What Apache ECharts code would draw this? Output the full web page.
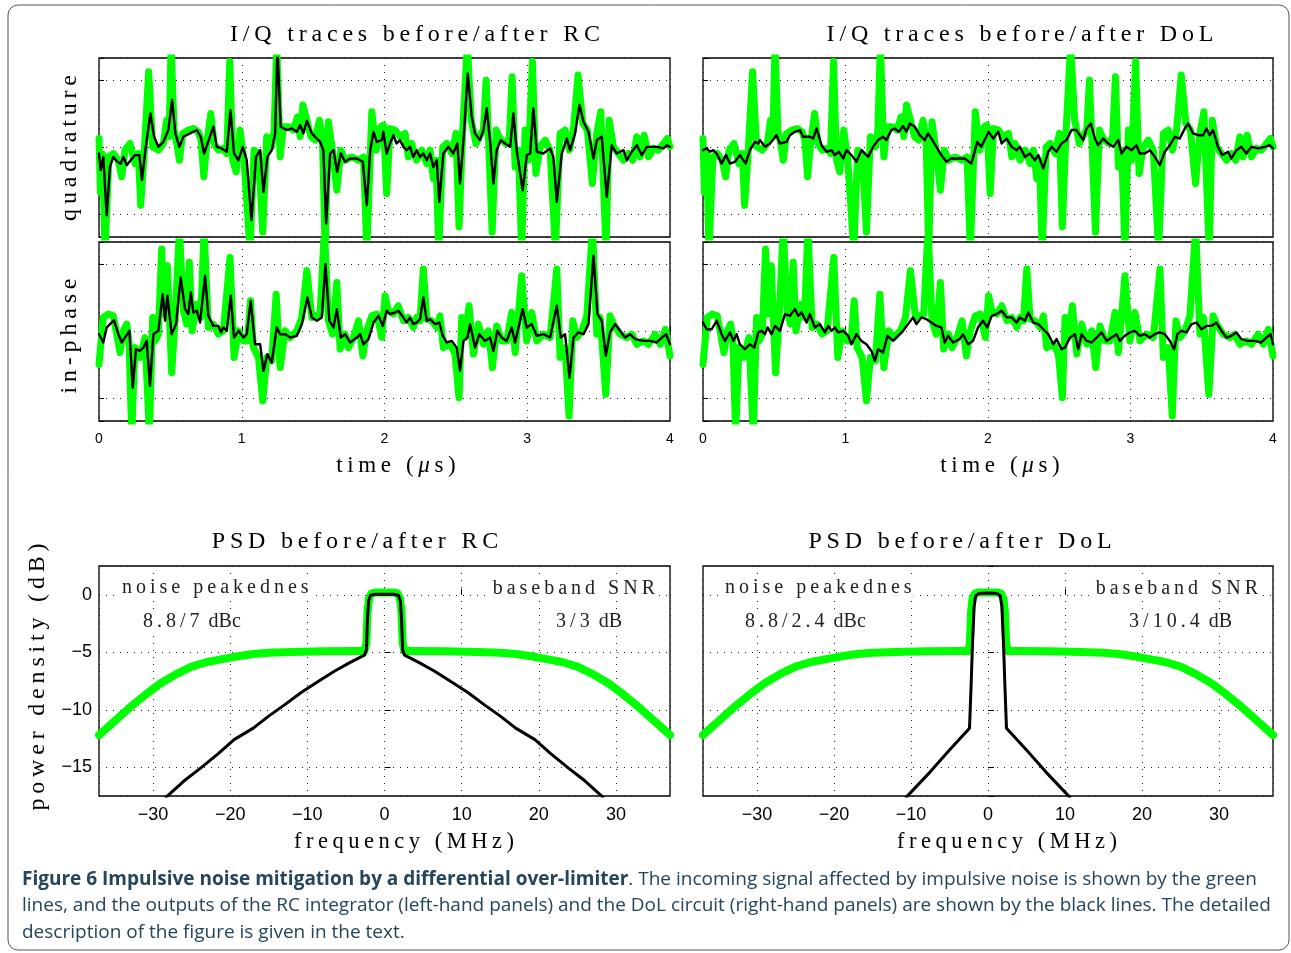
<!DOCTYPE html>
<html>
<head>
<meta charset="utf-8"/>
<title>Impulsive noise mitigation by a differential over-limiter</title>
<script src="https://cdn.jsdelivr.net/npm/echarts@6/dist/echarts.min.js"></script>
<style>
html,body{margin:0;padding:0;background:#fff;}
#chart{width:1291px;height:953px;}
</style>
</head>
<body>
<div id="chart"></div>
<script>
// ---- time traces: [time in us, amplitude] ----
// incoming signal (green), same in RC and DoL panels
var greenQ = [[0,0.4],[0.01,-2.0],[0.025,-0.3],[0.042,-4.6],[0.07,-0.4],[0.10,-0.27],[0.135,-0.57],[0.159,-1.31],[0.182,-0.12],[0.217,0.18],[0.252,-0.72],[0.276,-0.27],[0.292,-2.58],[0.315,-0.42],[0.348,3.39],[0.376,0.03],[0.416,-0.12],[0.451,0.18],[0.474,1.22],[0.491,0.48],[0.505,4.6],[0.526,0.78],[0.549,0.03],[0.563,-0.57],[0.586,0.63],[0.626,0.78],[0.661,0.85],[0.696,0.70],[0.715,0.33],[0.734,-1.31],[0.755,0.18],[0.783,1.52],[0.806,0.18],[0.836,-0.12],[0.871,-0.04],[0.895,-0.27],[0.916,3.84],[0.937,-0.57],[0.960,-1.09],[0.988,0.78],[1.016,-0.57],[1.058,-4.6],[1.086,-0.12],[1.117,-0.27],[1.147,-3.78],[1.175,0.48],[1.210,0.03],[1.227,0.78],[1.245,4.6],[1.269,-0.42],[1.292,0.93],[1.327,0.93],[1.362,0.78],[1.390,1.37],[1.409,0.48],[1.428,1.90],[1.456,1.22],[1.484,0.48],[1.514,0.33],[1.544,1.22],[1.565,0.48],[1.584,-4.6],[1.607,1.15],[1.638,-0.27],[1.666,-1.91],[1.694,-0.12],[1.724,-0.57],[1.771,-0.42],[1.818,-0.57],[1.853,-0.42],[1.876,-4.6],[1.911,1.60],[1.942,-0.12],[1.974,0.93],[1.993,1.0],[2.015,-2.06],[2.039,0.85],[2.074,0.78],[2.109,0.48],[2.144,0.63],[2.167,-0.42],[2.190,0.18],[2.225,-0.57],[2.261,-0.12],[2.296,-0.72],[2.319,-0.12],[2.342,-1.39],[2.361,-0.57],[2.380,-4.6],[2.408,0.03],[2.436,0.18],[2.471,-0.27],[2.501,0.63],[2.522,-3.55],[2.548,0.78],[2.580,4.6],[2.608,1.22],[2.641,0.18],[2.669,0.55],[2.693,0.78],[2.712,3.01],[2.730,0.18],[2.754,-3.78],[2.782,0.78],[2.814,0.33],[2.852,0.18],[2.875,0.48],[2.894,3.16],[2.915,-0.87],[2.938,-0.12],[2.961,-4.6],[2.985,0.78],[3.008,-0.57],[3.036,3.84],[3.060,-1.16],[3.090,0.03],[3.125,0.33],[3.160,-0.12],[3.197,-4.6],[3.230,0.63],[3.265,0.78],[3.295,-0.12],[3.323,0.78],[3.356,3.24],[3.389,1.07],[3.421,0.78],[3.456,-1.61],[3.487,0.63],[3.515,1.60],[3.552,-4.6],[3.574,1.22],[3.604,0.03],[3.639,-0.27],[3.674,-0.57],[3.709,-0.27],[3.739,-0.57],[3.767,0.48],[3.791,-0.42],[3.819,0.55],[3.849,-0.42],[3.884,-0.04],[3.919,-0.12],[3.954,0.18],[3.982,0.40],[4.0,0.03]];

var greenI = [[0,-1.46],[0.030,0.63],[0.065,0.78],[0.100,0.70],[0.124,-0.12],[0.147,-0.94],[0.171,0.03],[0.194,0.33],[0.210,-0.42],[0.229,-4.6],[0.252,-0.72],[0.287,-1.16],[0.322,-0.27],[0.353,-4.6],[0.376,0.63],[0.393,-0.42],[0.416,-0.12],[0.439,3.69],[0.456,0.78],[0.479,2.94],[0.509,-1.84],[0.533,0.48],[0.563,4.6],[0.591,0.93],[0.614,0.33],[0.633,3.09],[0.652,0.03],[0.685,1.22],[0.713,0.63],[0.736,4.6],[0.766,0.18],[0.801,0.33],[0.836,-0.12],[0.871,0.03],[0.918,3.31],[0.946,-1.16],[0.977,0.03],[1.012,-0.42],[1.040,-0.42],[1.061,1.37],[1.082,-0.72],[1.117,-1.16],[1.147,-3.10],[1.175,-1.16],[1.210,-1.31],[1.241,1.67],[1.269,-1.61],[1.304,0.03],[1.339,-0.27],[1.386,0.03],[1.421,0.63],[1.456,2.72],[1.491,0.63],[1.549,0.78],[1.579,4.6],[1.607,0.48],[1.636,-0.12],[1.666,2.19],[1.689,-0.79],[1.724,-0.12],[1.748,-0.72],[1.783,-0.27],[1.818,0.48],[1.848,-1.09],[1.876,0.03],[1.911,0.70],[1.946,0.78],[1.981,-0.27],[2.004,1.60],[2.027,0.93],[2.062,0.78],[2.097,1.15],[2.132,0.48],[2.167,0.63],[2.202,0.18],[2.225,0.63],[2.249,0.48],[2.272,2.79],[2.296,0.55],[2.331,0.48],[2.366,0.18],[2.389,0.70],[2.412,-0.72],[2.459,-0.57],[2.494,-1.01],[2.522,-2.96],[2.541,0.63],[2.564,-0.27],[2.592,1.15],[2.623,-1.01],[2.658,0.33],[2.693,-0.57],[2.728,0.03],[2.756,-1.61],[2.786,0.25],[2.821,-0.42],[2.856,-0.42],[2.891,0.85],[2.915,-0.94],[2.961,2.49],[2.996,-0.42],[3.031,0.85],[3.067,-0.42],[3.113,-0.12],[3.160,-0.27],[3.207,2.79],[3.230,-1.16],[3.265,-0.72],[3.293,-3.78],[3.319,0.48],[3.347,-0.27],[3.382,0.03],[3.417,0.70],[3.457,4.6],[3.487,-0.12],[3.511,0.63],[3.550,-2.81],[3.580,0.70],[3.604,0.33],[3.650,-0.12],[3.697,-0.27],[3.732,-0.12],[3.767,-0.57],[3.814,-0.42],[3.849,-0.57],[3.896,-0.12],[3.931,-0.57],[3.967,0.10],[4.0,-1.09]];

// RC integrator output (black, left panels)
var rcQ = [[0,-0.27],[0.012,-1.01],[0.030,-0.42],[0.054,-3.03],[0.077,-0.87],[0.100,-0.42],[0.129,-0.64],[0.152,-0.72],[0.171,-0.42],[0.194,-0.79],[0.222,-0.57],[0.252,-0.34],[0.283,-0.34],[0.301,-1.46],[0.325,-0.12],[0.360,1.52],[0.386,0.48],[0.416,0.03],[0.451,0.25],[0.486,0.78],[0.512,2.12],[0.535,0.63],[0.563,0.03],[0.591,0.48],[0.638,0.63],[0.685,0.78],[0.713,0.48],[0.736,-0.27],[0.769,0.33],[0.801,0.93],[0.825,0.03],[0.860,-0.04],[0.895,-0.19],[0.921,1.67],[0.946,-0.27],[0.977,-0.57],[1.007,0.03],[1.035,-0.57],[1.068,-3.25],[1.100,-0.42],[1.129,-0.12],[1.152,-1.99],[1.180,-0.42],[1.210,-0.12],[1.234,0.63],[1.250,4.5],[1.273,0.93],[1.315,0.78],[1.350,0.85],[1.386,0.70],[1.409,1.00],[1.432,0.63],[1.456,1.19],[1.491,0.63],[1.526,0.40],[1.549,0.25],[1.572,-0.12],[1.591,-3.40],[1.619,-0.27],[1.643,-0.12],[1.668,-1.09],[1.694,-0.27],[1.724,-0.64],[1.759,-0.49],[1.806,-0.49],[1.848,-0.64],[1.876,-2.58],[1.900,-0.12],[1.923,0.70],[1.946,0.25],[1.981,0.33],[1.992,0.70],[2.015,-0.27],[2.039,0.18],[2.062,0.55],[2.085,0.18],[2.109,0.33],[2.132,0.03],[2.155,-0.12],[2.179,0.03],[2.202,-0.42],[2.225,-0.12],[2.249,-0.42],[2.272,-0.27],[2.296,-0.57],[2.319,-0.27],[2.342,-0.87],[2.366,-0.57],[2.384,-2.43],[2.412,-0.27],[2.447,0.03],[2.482,-0.27],[2.510,0.18],[2.529,-1.61],[2.557,0.63],[2.583,3.31],[2.611,1.37],[2.634,0.63],[2.669,0.33],[2.693,0.78],[2.716,1.75],[2.739,0.33],[2.763,-1.61],[2.786,-0.12],[2.814,0.33],[2.845,0.18],[2.880,0.03],[2.903,1.52],[2.926,-0.12],[2.968,-1.91],[2.997,-0.34],[3.020,-0.27],[3.043,1.75],[3.067,-0.19],[3.113,-0.27],[3.160,-0.04],[3.183,-0.42],[3.207,-2.43],[3.242,-0.27],[3.277,0.40],[3.300,-0.12],[3.335,0.63],[3.366,1.90],[3.394,1.15],[3.429,0.70],[3.464,-0.49],[3.487,0.33],[3.522,0.48],[3.557,-2.21],[3.592,0.10],[3.627,-0.27],[3.674,-0.12],[3.698,-0.57],[3.732,-0.19],[3.768,0.10],[3.803,-0.34],[3.838,0.03],[3.908,0.03],[3.954,-0.04],[3.978,0.10],[4.0,0.03]];

var rcI = [[0,-0.12],[0.030,-0.49],[0.054,0.18],[0.077,0.33],[0.105,0.51],[0.136,-0.12],[0.159,-0.49],[0.182,-0.27],[0.213,0.03],[0.236,-2.51],[0.259,-0.79],[0.287,-0.87],[0.311,-0.72],[0.334,-0.42],[0.357,-2.43],[0.381,-0.12],[0.416,0.03],[0.446,1.67],[0.463,0.48],[0.479,1.60],[0.509,-0.12],[0.540,0.33],[0.572,2.42],[0.603,1.00],[0.626,0.78],[0.643,1.75],[0.661,0.85],[0.685,0.93],[0.708,0.40],[0.743,2.49],[0.766,0.70],[0.801,0.25],[0.836,0.25],[0.855,-0.04],[0.871,0.18],[0.895,0.03],[0.923,1.60],[0.946,-0.27],[0.977,0.03],[1.012,-0.27],[1.035,-0.12],[1.063,1.37],[1.093,-0.57],[1.129,-0.57],[1.152,-1.76],[1.180,-1.01],[1.210,-1.39],[1.245,0.18],[1.269,-0.12],[1.304,-0.12],[1.339,-0.27],[1.386,-0.19],[1.421,0.33],[1.460,1.52],[1.491,0.63],[1.526,0.48],[1.561,0.63],[1.586,3.01],[1.614,0.48],[1.643,0.18],[1.666,1.00],[1.694,-0.27],[1.724,-0.12],[1.759,-0.49],[1.806,-0.27],[1.829,-0.12],[1.853,-0.57],[1.888,-0.34],[1.923,0.40],[1.958,0.70],[1.988,0.25],[2.015,0.93],[2.039,0.78],[2.074,0.85],[2.097,0.93],[2.132,0.63],[2.155,0.40],[2.179,0.63],[2.202,0.33],[2.225,0.40],[2.249,0.55],[2.272,1.52],[2.296,0.48],[2.319,0.55],[2.354,0.33],[2.384,0.40],[2.408,-0.19],[2.436,-0.49],[2.471,-0.42],[2.506,-0.72],[2.529,-1.76],[2.553,-0.42],[2.581,-0.27],[2.599,0.33],[2.634,-0.72],[2.665,-0.12],[2.704,-0.42],[2.739,-0.27],[2.763,-0.87],[2.791,0.03],[2.821,-0.27],[2.856,-0.42],[2.891,0.18],[2.915,-0.49],[2.968,1.00],[2.996,0.18],[3.031,0.33],[3.067,-0.19],[3.113,-0.12],[3.160,-0.27],[3.207,1.15],[3.235,-0.27],[3.265,-0.12],[3.296,-2.06],[3.324,-0.27],[3.359,-0.04],[3.394,-0.12],[3.429,0.33],[3.464,3.39],[3.492,0.78],[3.522,0.48],[3.550,-1.09],[3.580,-0.04],[3.615,0.33],[3.650,0.03],[3.685,-0.27],[3.720,-0.12],[3.756,-0.34],[3.814,-0.42],[3.861,-0.42],[3.907,-0.49],[3.943,-0.27],[3.973,-0.12],[4.0,-0.57]];

// DoL circuit output (black, right panels)
var dolQ = [[0,-0.12],[0.026,-0.04],[0.049,-0.19],[0.072,-0.12],[0.096,-0.27],[0.131,-0.72],[0.161,-0.34],[0.189,-0.72],[0.224,-0.64],[0.259,-0.34],[0.299,-0.72],[0.329,-0.12],[0.364,0.25],[0.388,0.18],[0.400,0.33],[0.435,0.03],[0.470,0.18],[0.516,0.55],[0.540,0.18],[0.586,0.25],[0.610,0.55],[0.645,0.70],[0.680,0.78],[0.703,0.48],[0.750,0.48],[0.773,0.40],[0.797,0.85],[0.832,0.10],[0.867,-0.19],[0.902,-0.12],[0.925,-0.34],[0.953,-0.19],[0.984,-0.49],[1.007,-0.12],[1.042,-0.34],[1.077,-0.64],[1.112,-0.12],[1.136,-0.27],[1.159,-0.42],[1.194,0.03],[1.229,0.33],[1.264,0.48],[1.287,0.33],[1.322,0.78],[1.346,0.85],[1.374,0.70],[1.404,0.96],[1.428,0.70],[1.451,1.07],[1.486,0.93],[1.521,0.55],[1.556,0.33],[1.579,0.63],[1.603,0.40],[1.638,0.03],[1.673,-0.34],[1.708,-0.64],[1.743,-0.49],[1.790,-0.49],[1.836,-0.49],[1.883,-0.72],[1.925,0.25],[1.953,0.03],[2.005,0.70],[2.037,0.40],[2.072,0.70],[2.096,0.18],[2.131,0.40],[2.166,0.03],[2.201,-0.12],[2.224,0.03],[2.259,-0.42],[2.294,-0.27],[2.329,-0.57],[2.353,-0.34],[2.388,-0.94],[2.423,-0.19],[2.446,0.03],[2.481,-0.19],[2.516,0.18],[2.551,0.33],[2.586,0.78],[2.621,0.78],[2.668,0.33],[2.692,0.85],[2.722,1.07],[2.750,0.40],[2.773,0.10],[2.808,0.40],[2.843,0.18],[2.879,0.03],[2.914,0.33],[2.937,-0.27],[2.972,0.03],[3.007,-0.12],[3.042,0.10],[3.065,-0.27],[3.100,-0.27],[3.136,-0.12],[3.171,-0.42],[3.206,-0.79],[3.241,-0.19],[3.276,0.10],[3.311,0.48],[3.346,0.40],[3.381,0.85],[3.404,1.07],[3.439,0.63],[3.474,0.55],[3.509,0.55],[3.533,0.85],[3.556,0.55],[3.579,0.78],[3.614,0.03],[3.643,-0.34],[3.685,-0.19],[3.708,-0.49],[3.743,-0.12],[3.778,0.03],[3.813,-0.27],[3.848,0.03],[3.895,-0.04],[3.942,0.03],[3.977,0.10],[4.0,-0.04]];

var dolI = [[0,0.40],[0.026,0.10],[0.061,0.10],[0.096,0.48],[0.131,-0.12],[0.154,-0.42],[0.189,-0.04],[0.213,-0.42],[0.236,-0.12],[0.259,-0.57],[0.294,-0.79],[0.329,-0.57],[0.360,-0.72],[0.388,-0.04],[0.411,0.03],[0.435,-0.12],[0.453,0.18],[0.481,-0.12],[0.505,0.25],[0.540,0.03],[0.575,0.78],[0.610,0.70],[0.645,1.00],[0.668,0.70],[0.692,0.85],[0.727,0.40],[0.750,0.78],[0.785,0.18],[0.820,0.33],[0.855,-0.04],[0.879,0.25],[0.902,0.03],[0.925,0.18],[0.949,-0.04],[0.984,0.03],[1.019,-0.19],[1.042,-0.57],[1.077,-0.12],[1.112,-0.42],[1.147,-0.57],[1.182,-0.87],[1.206,-1.31],[1.229,-0.79],[1.264,-0.94],[1.294,-0.19],[1.334,-0.42],[1.369,-0.19],[1.404,0.03],[1.439,0.33],[1.474,0.63],[1.498,0.33],[1.533,0.63],[1.568,0.55],[1.603,0.40],[1.638,0.25],[1.673,0.18],[1.696,-0.49],[1.720,-0.19],[1.755,-0.49],[1.801,-0.34],[1.825,-0.12],[1.860,-0.57],[1.895,-0.42],[1.930,0.18],[1.965,0.48],[1.995,0.18],[2.026,0.70],[2.061,0.78],[2.096,0.93],[2.131,0.63],[2.166,0.63],[2.201,0.40],[2.224,0.63],[2.259,0.48],[2.283,0.85],[2.318,0.40],[2.353,0.33],[2.388,0.10],[2.423,-0.12],[2.458,-0.57],[2.481,-0.34],[2.516,-0.79],[2.540,-0.72],[2.575,-0.27],[2.610,-0.12],[2.633,-0.79],[2.657,-0.12],[2.692,-0.42],[2.727,-0.49],[2.762,-0.27],[2.797,-0.04],[2.832,-0.42],[2.867,-0.27],[2.902,-0.12],[2.925,-0.42],[2.960,-0.19],[2.995,-0.04],[3.030,0.03],[3.065,-0.19],[3.100,-0.12],[3.136,-0.27],[3.171,-0.12],[3.206,-0.04],[3.241,-0.12],[3.276,-0.42],[3.306,-0.79],[3.329,-0.12],[3.357,0.03],[3.393,-0.04],[3.428,0.33],[3.463,0.40],[3.498,0.10],[3.533,0.25],[3.568,0.25],[3.603,0.40],[3.638,0.03],[3.673,-0.27],[3.708,-0.19],[3.743,-0.04],[3.778,-0.34],[3.825,-0.42],[3.871,-0.42],[3.918,-0.49],[3.953,-0.27],[3.984,-0.12],[4.0,-0.57]];

// ---- power spectral densities: [frequency in MHz, dB] ----
var greenPsd = [[-37,-12.2],[-35,-11.0],[-33,-9.8],[-31,-8.7],[-29,-7.7],[-27,-6.9],[-25,-6.25],[-23,-5.85],[-21,-5.6],[-19,-5.35],[-17,-5.15],[-15,-5.05],[-12,-4.98],[-8,-4.92],[-4,-4.9],[-2.6,-4.9],[-2.35,-4.2],[-2.2,-1.5],[-2.0,-0.3],[-1.7,0.1],[-1.2,0.2],[0,0.2],[1.2,0.2],[1.7,0.1],[2.0,-0.3],[2.2,-1.5],[2.35,-4.2],[2.6,-4.9],[4,-4.9],[8,-4.92],[12,-4.98],[15,-5.05],[17,-5.15],[19,-5.35],[21,-5.6],[23,-5.85],[25,-6.25],[27,-6.9],[29,-7.7],[31,-8.7],[33,-9.8],[35,-11.0],[37,-12.2]];
var rcPsd = [[-28.3,-17.6],[-26,-16.2],[-23.8,-15.05],[-21.5,-13.8],[-19.5,-12.6],[-17,-11.6],[-15.1,-10.6],[-13,-9.6],[-10.8,-8.5],[-8.5,-7.5],[-6.5,-6.65],[-4.5,-5.9],[-2.6,-5.25],[-2.35,-4.8],[-2.2,-2.0],[-2.05,-0.5],[-1.8,-0.05],[-1.2,0.05],[0,0.05],[1.2,0.05],[1.8,-0.05],[2.05,-0.5],[2.2,-2.0],[2.35,-4.8],[2.6,-5.25],[4.5,-5.9],[6.5,-6.65],[8.5,-7.5],[10.8,-8.5],[13,-9.6],[15.1,-10.6],[17,-11.6],[19.5,-12.6],[21.5,-13.8],[23.8,-15.05],[26,-16.2],[28.3,-17.6]];
var dolPsd = [[-10.6,-17.6],[-7.5,-15.4],[-5,-13.5],[-2.4,-11.6],[-2.2,-8],[-2.0,-4],[-1.8,-1.0],[-1.6,-0.1],[-1.2,0.1],[0,0.15],[1.2,0.1],[1.6,-0.1],[1.8,-1.0],[2.0,-4],[2.2,-8],[2.4,-11.6],[5,-13.5],[7.5,-15.4],[10.6,-17.6]];

var psdNotes = {
  rc:  {peak: '8.8/7', snr: '3/3'},
  dol: {peak: '8.8/2.4', snr: '3/10.4'}
};

var SERIF = '"Liberation Serif", "DejaVu Serif", serif';
var SANS = '"Liberation Sans", Arial, sans-serif';
var GREEN = '#00ff00';

function spaced(s) { return s.split('').join('\u2009'); }
function minus(v) { return String(v).replace('-', '\u2212'); }

var dotted = {show: true, lineStyle: {color: '#222', width: 1, type: [1, 6]}};

var grids = [
  {left: 99, top: 58, width: 571, height: 179},
  {left: 99, top: 242, width: 571, height: 179},
  {left: 703, top: 58, width: 570, height: 179},
  {left: 703, top: 242, width: 570, height: 179},
  {left: 99, top: 566, width: 571, height: 230},
  {left: 703, top: 566, width: 570, height: 230}
].map(function (g) {
  g.show = true; g.borderColor = '#000'; g.borderWidth = 1.3; g.containLabel = false;
  return g;
});

var xAxes = [], yAxes = [];
for (var i = 0; i < 4; i++) {
  xAxes.push({
    type: 'value', gridIndex: i, min: 0, max: 4, interval: 1,
    axisLine: {show: false},
    axisTick: {show: true, inside: true, length: 5, lineStyle: {color: '#000'}},
    splitLine: dotted,
    axisLabel: {show: i % 2 === 1, color: '#000', fontSize: 14, fontFamily: SANS, margin: 11}
  });
  yAxes.push({
    type: 'value', gridIndex: i, min: -4, max: 4, splitNumber: 3,
    axisLine: {show: false},
    axisTick: {show: true, inside: true, length: 5, lineStyle: {color: '#000'}},
    splitLine: dotted,
    axisLabel: {show: false}
  });
}
for (var j = 4; j < 6; j++) {
  xAxes.push({
    type: 'value', gridIndex: j, min: -37, max: 37,
    axisLine: {show: false},
    axisTick: {show: true, inside: true, length: 6, lineStyle: {color: '#000'}},
    splitLine: dotted,
    axisLabel: {color: '#000', fontSize: 18, fontFamily: SANS, margin: 10,
      showMinLabel: false, showMaxLabel: false, formatter: minus}
  });
  yAxes.push({
    type: 'value', gridIndex: j, min: -17.5, max: 2.5,
    axisLine: {show: false},
    axisTick: {show: true, inside: true, length: 6, lineStyle: {color: '#000'}},
    splitLine: dotted,
    axisLabel: {show: j === 4, color: '#000', fontSize: 18, fontFamily: SANS, margin: 7,
      showMinLabel: false, showMaxLabel: false, formatter: minus}
  });
}

function trace(idx, data, color, width) {
  return {
    type: 'line', xAxisIndex: idx, yAxisIndex: idx, data: data,
    showSymbol: false, symbol: 'none', clip: true, animation: false, silent: true,
    lineStyle: {color: color, width: width, join: 'round', cap: 'round'}
  };
}

var series = [
  trace(0, greenQ, GREEN, 7), trace(0, rcQ, '#000', 2.4),
  trace(1, greenI, GREEN, 7), trace(1, rcI, '#000', 2.4),
  trace(2, greenQ, GREEN, 7), trace(2, dolQ, '#000', 2.4),
  trace(3, greenI, GREEN, 7), trace(3, dolI, '#000', 2.4),
  trace(4, greenPsd, GREEN, 8), trace(4, rcPsd, '#000', 3),
  trace(5, greenPsd, GREEN, 8), trace(5, dolPsd, '#000', 3)
];

function label(text, x, y, size) {
  return {type: 'text', x: x, y: y, z: 100, style: {
    text: text, font: size + 'px ' + SERIF, fill: '#000',
    align: 'center', verticalAlign: 'middle'
  }};
}
function vlabel(text, x, y, size) {
  var el = label(text, x, y, size);
  el.rotation = Math.PI / 2;
  return el;
}
function note(text, x, y, align) {
  return {type: 'text', x: x, y: y, z: 100, style: {
    text: text, font: '20px ' + SERIF, fill: '#222', align: align, verticalAlign: 'middle',
    backgroundColor: '#fff', padding: [0, 2]
  }};
}
function timeName(x) {
  return {type: 'text', x: x, y: 466, z: 100, style: {
    text: '{n|' + spaced('time (') + '\u2009}{i|\u03bc}{n|\u2009' + spaced('s)') + '}',
    align: 'center', verticalAlign: 'middle',
    rich: {n: {fontSize: 23, fontFamily: SERIF, fill: '#000'},
           i: {fontSize: 23, fontFamily: SERIF, fontStyle: 'italic', fill: '#000'}}
  }};
}

var captionColor = '#24455b';
var CAP = '"Open Sans", sans-serif';
var graphics = [
  {type: 'rect', shape: {x: 8, y: 5, width: 1281, height: 945, r: 10},
   style: {fill: 'none', stroke: '#555', lineWidth: 1}, z: 0},
  label(spaced('I/Q traces before/after RC'), 415, 35, 24),
  label(spaced('I/Q traces before/after DoL'), 1020, 35, 24),
  label(spaced('PSD before/after RC'), 355, 542, 24),
  label(spaced('PSD before/after DoL'), 960, 542, 24),
  vlabel(spaced('quadrature'), 70, 148, 24),
  vlabel(spaced('in-phase'), 70, 336, 24),
  vlabel(spaced('power density (dB)'), 38, 677, 24),
  timeName(396), timeName(1000),
  label(spaced('frequency (MHz)'), 404, 842, 22.5),
  label(spaced('frequency (MHz)'), 1007, 842, 22.5),
  note(spaced('noise peakednes'), 120, 588, 'left'),
  note(spaced(psdNotes.rc.peak) + '\u2009 dBc', 141, 622, 'left'),
  note(spaced('baseband SNR'), 657, 589, 'right'),
  note(spaced(psdNotes.rc.snr) + '\u2009 dB', 624, 622, 'right'),
  note(spaced('noise peakednes'), 723, 588, 'left'),
  note(spaced(psdNotes.dol.peak) + '\u2009 dBc', 743, 622, 'left'),
  note(spaced('baseband SNR'), 1260, 589, 'right'),
  note(spaced(psdNotes.dol.snr) + '\u2009 dB', 1234, 622, 'right'),
  {type: 'text', x: 22, y: 880, z: 100, style: {
    text: '{b|Figure 6 Impulsive noise mitigation by a differential over-limiter}{r|. The incoming signal affected by impulsive noise is shown by the green}',
    verticalAlign: 'middle',
    rich: {b: {fontSize: 19, fontFamily: CAP, fontWeight: 'bold', fill: captionColor},
           r: {fontSize: 19, fontFamily: CAP, fill: captionColor}}
  }},
  {type: 'text', x: 22, y: 906, z: 100, style: {
    text: 'lines, and the outputs of the RC integrator (left-hand panels) and the DoL circuit (right-hand panels) are shown by the black lines. The detailed',
    font: '19px ' + CAP, fill: captionColor, verticalAlign: 'middle'
  }},
  {type: 'text', x: 22, y: 933, z: 100, style: {
    text: 'description of the figure is given in the text.',
    font: '19px ' + CAP, fill: captionColor, verticalAlign: 'middle'
  }}
];

var chart = echarts.init(document.getElementById('chart'), null, {renderer: 'canvas'});
chart.setOption({
  backgroundColor: '#fff',
  animation: false,
  grid: grids,
  xAxis: xAxes,
  yAxis: yAxes,
  series: series,
  graphic: graphics
});
</script>
</body>
</html>
